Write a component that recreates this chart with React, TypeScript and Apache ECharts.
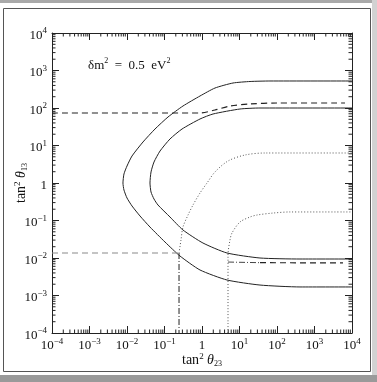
import React, { useEffect, useRef } from "react";
import * as echarts from "echarts";

const AXIS_MIN = 1e-4;
const AXIS_MAX = 1e4;
const decadeExponents = [-4, -3, -2, -1, 0, 1, 2, 3];
const minorMultipliers = [2, 3, 4, 5, 6, 7, 8, 9];

// Outer solid contour
const outerContour: [number, number][] = [
  [1e4, 525], [65, 525], [19.1, 509], [6.71, 464], [2.22, 341], [0.885, 209],
  [0.311, 113], [0.124, 57.5], [0.0558, 27.5], [0.0267, 12.4], [0.0136, 5.25],
  [0.01, 2.84], [0.0083, 1.74], [0.0078, 1.0], [0.0083, 0.65], [0.01, 0.398],
  [0.0136, 0.244], [0.0222, 0.132], [0.041, 0.067], [0.103, 0.0267],
  [0.259, 0.0113], [0.885, 0.00479], [4.64, 0.00259], [35.2, 0.0019],
  [410, 0.00169], [1e4, 0.00169],
];

// Inner solid contour
const innerContour: [number, number][] = [
  [1e4, 100], [35.2, 100], [10.3, 94], [1.97, 69.2], [0.885, 50.9], [0.293, 27.5],
  [0.14, 14.9], [0.076, 7.13], [0.0525, 3.63], [0.0437, 1.97], [0.041, 1.0],
  [0.0437, 0.575], [0.0525, 0.374], [0.067, 0.259], [0.14, 0.124], [0.311, 0.0558],
  [1.06, 0.0251], [4.64, 0.0136], [35.2, 0.01], [410, 0.0094], [1e4, 0.0094],
];

// Upper dashed curve
const upperDashed: [number, number][] = [
  [1e-4, 73.6], [0.885, 73.6], [2.22, 88.5], [5.58, 113], [19.1, 128], [100, 136], [6500, 136],
];

// Lower-left grey dashed line
const lowerLeftDashed: [number, number][] = [[1e-4, 0.0136], [0.244, 0.0136]];

// Left vertical dash-dot line
const leftVertical: [number, number][] = [[0.244, 0.0136], [0.244, 1e-4]];

// Upper dotted curve
const upperDotted: [number, number][] = [
  [0.244, 0.0136], [0.275, 0.0302], [0.311, 0.067], [0.424, 0.14], [0.575, 0.259],
  [0.885, 0.541], [1.36, 1.0], [2.22, 1.97], [4.94, 3.86], [14.0, 5.58], [47.9, 6.31], [1e4, 6.31],
];

// Lower dotted curve (with vertical part)
const lowerDotted: [number, number][] = [
  [4.94, 1e-4], [4.94, 0.012], [5.58, 0.0302], [6.31, 0.0464], [10.3, 0.091],
  [19.1, 0.124], [29.3, 0.14], [78, 0.158], [222, 0.169], [1e4, 0.169],
];

// Right lower dash-dot and dashed lines
const rightDashDot: [number, number][] = [[4.94, 0.0078], [35.2, 0.0075]];
const rightDashed: [number, number][] = [[35.2, 0.0075], [5750, 0.0074]];

const SERIF = "'Liberation Serif', 'DejaVu Serif', serif";

function expLabel(v: number): string {
  const e = Math.round(Math.log10(v));
  if (e === 0) return "{b|1}";
  return `{b|10}{s|${e < 0 ? "−" + -e : e}}`;
}

const labelRich = {
  b: { fontSize: 13, fontFamily: SERIF, color: "#111", lineHeight: 15, verticalAlign: "bottom" },
  s: { fontSize: 9, fontFamily: SERIF, color: "#111", lineHeight: 7, verticalAlign: "top" },
};

const nameRich = {
  t: { fontSize: 14, fontFamily: SERIF, color: "#111", lineHeight: 16 },
  s: { fontSize: 9, fontFamily: SERIF, color: "#111", lineHeight: 8, verticalAlign: "top" },
  i: { fontSize: 14, fontFamily: SERIF, fontStyle: "italic", color: "#111", lineHeight: 16 },
  u: { fontSize: 8, fontFamily: SERIF, color: "#111", lineHeight: 9, verticalAlign: "bottom" },
};

export default function App() {
  const ref = useRef<HTMLDivElement>(null);
  useEffect(() => {
    if (!ref.current) return;
    const chart = echarts.init(ref.current, undefined, { renderer: "svg" });

    const minorTicks: number[][] = [];
    decadeExponents.forEach((e) => {
      minorMultipliers.forEach((m) => {
        const v = m * Math.pow(10, e);
        minorTicks.push([v, AXIS_MIN, 0]);
        minorTicks.push([v, AXIS_MAX, 1]);
        minorTicks.push([AXIS_MIN, v, 2]);
        minorTicks.push([AXIS_MAX, v, 3]);
      });
    });

    const axisCommon = {
      type: "log" as const,
      logBase: 10,
      min: AXIS_MIN,
      max: AXIS_MAX,
      splitNumber: 8,
      axisLine: { show: true, lineStyle: { color: "#222", width: 1 } },
      axisTick: { show: true, inside: true, length: 7, lineStyle: { color: "#222", width: 1 } },
      splitLine: { show: false },
      minorTick: { show: false },
      minorSplitLine: { show: false },
    };

    const lineS = (data: [number, number][], color: string, type: any, width = 1, smooth: number | boolean = false) => ({
      type: "line",
      data,
      showSymbol: false,
      symbol: "none",
      smooth,
      silent: true,
      lineStyle: { color, width, type },
      xAxisIndex: 0,
      yAxisIndex: 0,
    });

    chart.setOption({
      animation: false,
      grid: { left: 52, top: 33, right: 25, bottom: 49, containLabel: false, outerBoundsMode: "none" },
      xAxis: [
        {
          ...axisCommon,
          position: "bottom",
          axisLabel: { formatter: expLabel, rich: labelRich, margin: 3 },
          name: "{t|tan}{s|2}{t| }{i|θ}{u|23}",
          nameLocation: "middle",
          nameGap: 18,
          nameMoveOverlap: false,
          nameTextStyle: { rich: nameRich, verticalAlign: "top" },
        },
        { ...axisCommon, position: "top", axisLabel: { show: false } },
      ],
      yAxis: [
        {
          ...axisCommon,
          position: "left",
          axisLabel: { formatter: expLabel, rich: labelRich, margin: 5 },
          name: "{t|tan}{s|2}{t| }{i|θ}{u|13}",
          nameLocation: "middle",
          nameGap: 24,
          nameMoveOverlap: false,
          nameTextStyle: { rich: nameRich },
        },
        { ...axisCommon, position: "right", axisLabel: { show: false } },
      ],
      series: [
        lineS(outerContour, "#222", "solid", 1, 0.2),
        lineS(innerContour, "#222", "solid", 1, 0.2),
        lineS(upperDashed, "#222", [6, 4], 1.2, 0.3),
        lineS(lowerLeftDashed, "#8a8a8a", [6, 4], 1.2),
        lineS(leftVertical, "#222", [6, 2, 1, 2], 1),
        lineS(upperDotted, "#555", [1, 2], 1, 0.3),
        lineS(lowerDotted, "#555", [1, 2], 1, 0.3),
        lineS(rightDashDot, "#444", [6, 2, 1, 2], 1),
        lineS(rightDashed, "#222", [6, 4], 1.2),
        {
          type: "custom",
          xAxisIndex: 0,
          yAxisIndex: 0,
          silent: true,
          clip: false,
          data: minorTicks,
          renderItem: (_params: any, api: any) => {
            const p = api.coord([api.value(0), api.value(1)]);
            const side = api.value(2);
            const L = 3.5;
            let x2 = p[0];
            let y2 = p[1];
            if (side === 0) y2 -= L;
            else if (side === 1) y2 += L;
            else if (side === 2) x2 += L;
            else x2 -= L;
            return {
              type: "line",
              shape: { x1: p[0], y1: p[1], x2, y2 },
              style: { stroke: "#222", lineWidth: 1 },
            };
          },
        },
      ],
      graphic: [
        { type: "rect", shape: { x: 0, y: 0, width: 377, height: 3 }, style: { fill: "#a9a9a9" }, silent: true },
        { type: "rect", shape: { x: 372, y: 0, width: 5, height: 382 }, style: { fill: "#d2d2d2" }, silent: true },
        { type: "rect", shape: { x: 0, y: 375, width: 377, height: 7 }, style: { fill: "#9a9a9a" }, silent: true },
        {
          type: "rect",
          shape: { x: 3.5, y: 8.5, width: 367, height: 363 },
          style: { fill: "none", stroke: "#555", lineWidth: 1 },
          silent: true,
        },
        {
          type: "text",
          x: 88,
          y: 56,
          silent: true,
          style: {
            text: "{t|δm}{s|2}{t|  =  0.5  eV}{s|2}",
            rich: {
              t: { fontSize: 13, fontFamily: SERIF, fill: "#111", lineHeight: 16 },
              s: { fontSize: 8, fontFamily: SERIF, fill: "#111", lineHeight: 8, verticalAlign: "top" },
            },
          },
        },
      ],
    });
    return () => chart.dispose();
  }, []);
  return <div ref={ref} style={{ position: "fixed", left: 0, top: 0, width: 377, height: 382 }} />;
}
